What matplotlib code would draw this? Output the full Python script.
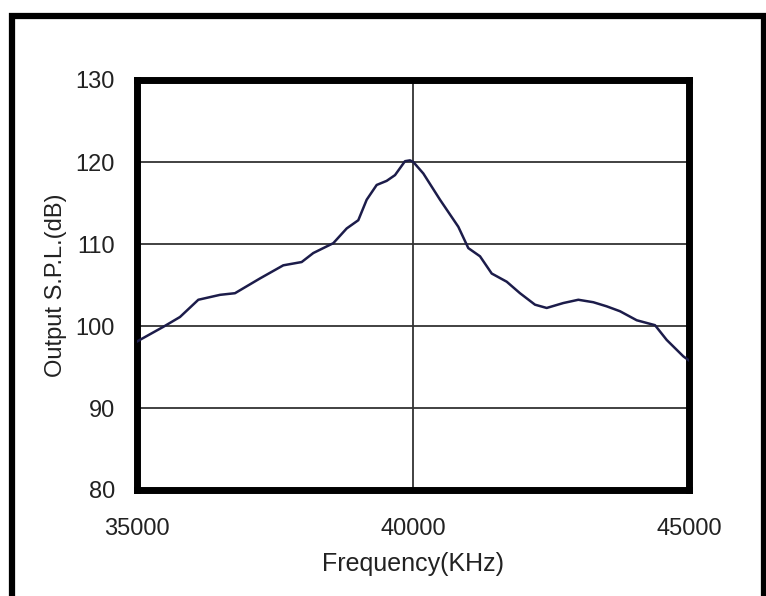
import matplotlib
matplotlib.use("Agg")
import matplotlib.pyplot as plt
from matplotlib.patches import Rectangle

# response curve
freq = [35000, 35050, 35477, 35779, 36111, 36504, 36775, 37228, 37650, 37983,
        38194, 38556, 38799, 39009, 39161, 39342, 39523, 39674, 39855, 39946,
        40006, 40187, 40489, 40821, 41002, 41214, 41426, 41698, 41938, 42210,
        42422, 42723, 42995, 43266, 43508, 43750, 44053, 44384, 44596, 44897,
        45000]
spl = [98.1, 98.3, 99.9, 101.1, 103.2, 103.8, 104.0, 105.8, 107.4, 107.8,
       108.9, 110.1, 111.9, 112.9, 115.4, 117.2, 117.7, 118.4, 120.1, 120.2,
       120.0, 118.6, 115.4, 112.1, 109.5, 108.5, 106.4, 105.4, 104.0, 102.6,
       102.2, 102.8, 103.2, 102.9, 102.4, 101.8, 100.7, 100.1, 98.3, 96.3,
       95.8]

xticks = [35000, 40000, 45000]
yticks = [80, 90, 100, 110, 120, 130]

plt.rcParams['font.family'] = ['Liberation Sans', 'DejaVu Sans']
txt = '#222222'

fig = plt.figure(figsize=(7.66, 5.96), dpi=100)
ax = fig.add_axes([137 / 766, 1 - 490 / 596, 552 / 766, 410 / 596])

# outer frame around the whole chart
fig.patches.append(Rectangle((11.5 / 766, -0.05), (764 - 11.5) / 766, 1 - 16 / 596 + 0.05,
                             transform=fig.transFigure, fill=False,
                             edgecolor='black', linewidth=4.5, clip_on=False))

ax.plot(freq, spl, color='#1c1c4a', linewidth=1.8, zorder=3)

ax.set_xlim(35000, 45000)
ax.set_ylim(80, 130)
ax.set_xticks(xticks)
ax.set_yticks(yticks)

ax.axvline(40000, color='#333333', linewidth=1.3, zorder=1)
for y in [90, 100, 110, 120]:
    ax.axhline(y, color='#333333', linewidth=1.3, zorder=1)

for s in ax.spines.values():
    s.set_linewidth(5)
    s.set_color('black')

ax.tick_params(length=0, labelsize=17, labelcolor=txt)
ax.tick_params(axis='y', pad=16)
ax.tick_params(axis='x', pad=20)

ax.set_xlabel("Frequency(KHz)", fontsize=18, color=txt, labelpad=9)
ax.set_ylabel("Output S.P.L.(dB)", fontsize=17, color=txt, labelpad=6)

fig.savefig("out.png", dpi=100)
